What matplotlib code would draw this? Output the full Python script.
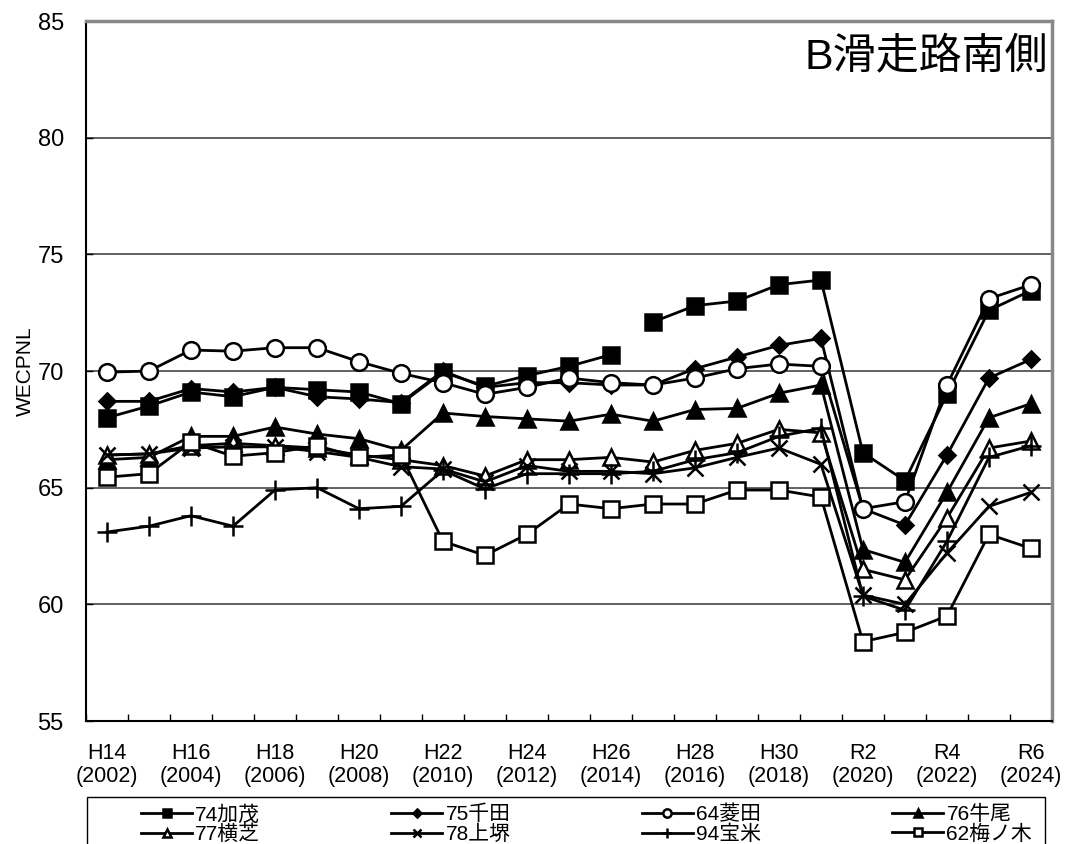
import numpy as np
import matplotlib
matplotlib.use('Agg')
import matplotlib.pyplot as plt
import matplotlib.patches as patches

plt.rcParams['font.family'] = ['Liberation Sans', 'Noto Sans CJK JP', 'DejaVu Sans']

#--------------------------------------------------------------------------#
# Data (WECPNL by year, H14 .. R6)
#--------------------------------------------------------------------------#
years = ['H14', 'H15', 'H16', 'H17', 'H18', 'H19', 'H20', 'H21', 'H22', 'H23',
         'H24', 'H25', 'H26', 'H27', 'H28', 'H29', 'H30', 'R1', 'R2', 'R3',
         'R4', 'R5', 'R6']
tick_labels = ['H14\n(2002)', 'H16\n(2004)', 'H18\n(2006)', 'H20\n(2008)',
               'H22\n(2010)', 'H24\n(2012)', 'H26\n(2014)', 'H28\n(2016)',
               'H30\n(2018)', 'R2\n(2020)', 'R4\n(2022)', 'R6\n(2024)']

kamo     = [68.0, 68.5, 69.1, 68.9, 69.3, 69.2, 69.1, 68.6, 69.95, 69.35, 69.8, 70.2,
            70.7, 72.1, 72.8, 73.0, 73.7, 73.9, 66.5, 65.3, 69.0, 72.6, 73.45]
senda    = [68.7, 68.7, 69.25, 69.1, 69.3, 68.9, 68.8, 68.65, 70.0, 69.3, 69.5, 69.5,
            69.4, 69.4, 70.1, 70.6, 71.1, 71.4, 64.1, 63.4, 66.4, 69.7, 70.5]
hishida  = [69.95, 70.0, 70.9, 70.85, 71.0, 71.0, 70.4, 69.9, 69.5, 69.0, 69.3, 69.7,
            69.5, 69.4, 69.7, 70.1, 70.3, 70.2, 64.1, 64.4, 69.4, 73.1, 73.7]
ushio    = [66.2, 66.3, 67.2, 67.2, 67.6, 67.3, 67.1, 66.6, 68.2, 68.05, 67.95, 67.85,
            68.15, 67.85, 68.35, 68.4, 69.05, 69.4, 62.35, 61.8, 64.8, 68.0, 68.6]
yokoshiba = [66.4, 66.45, 66.8, 66.9, 66.8, 66.7, 66.4, 66.2, 65.95, 65.5, 66.2, 66.2,
             66.3, 66.1, 66.6, 66.9, 67.5, 67.35, 61.5, 61.05, 63.7, 66.7, 67.0]
kamisakai = [66.4, 66.45, 66.7, 66.75, 66.75, 66.55, 66.3, 65.9, 65.8, 65.25, 65.95, 65.7,
             65.7, 65.6, 65.85, 66.3, 66.7, 66.0, 60.4, 60.0, 62.2, 64.2, 64.8]
hogome   = [63.1, 63.35, 63.8, 63.35, 64.9, 65.0, 64.1, 64.2, 65.75, 64.95, 65.6, 65.6,
            65.6, 65.7, 66.2, 66.5, 67.2, 67.55, 60.35, 59.75, 62.7, 66.3, 66.8]
umenoki  = [65.45, 65.6, 66.95, 66.35, 66.5, 66.8, 66.3, 66.4, 62.7, 62.1, 63.0, 64.3,
            64.1, 64.3, 64.3, 64.9, 64.9, 64.6, 58.4, 58.8, 59.5, 63.0, 62.4]

series = [
    ('74加茂', kamo, 's', 'black'),
    ('75千田', senda, 'D', 'black'),
    ('64菱田', hishida, 'o', 'white'),
    ('76牛尾', ushio, '^', 'black'),
    ('77横芝', yokoshiba, '^', 'white'),
    ('78上堺', kamisakai, 'x', 'black'),
    ('94宝米', hogome, '+', 'black'),
    ('62梅ノ木', umenoki, 's', 'white'),
]
msizes = {'s': 11, 'D': 8, 'o': 12, '^': 11, 'x': 11, '+': 14}

#--------------------------------------------------------------------------#
# Plot
#--------------------------------------------------------------------------#
fig = plt.figure(figsize=(10.72, 8.44), dpi=100)
fig.patch.set_facecolor('white')
ax = fig.add_axes([0.0802, 0.1457, 0.9011, 0.8294])

x = np.arange(len(years))
handles = []
for name, vals, mk, fc in series:
    vals = np.asarray(vals)
    ms = msizes[mk]
    if name == '74加茂':
        # line is broken between H26 and H27
        h, = ax.plot(x[:13], vals[:13], color='black', lw=2.0, marker=mk, ms=ms,
                     mfc=fc, mec='black', mew=1.8)
        ax.plot(x[13:], vals[13:], color='black', lw=2.0, marker=mk, ms=ms,
                mfc=fc, mec='black', mew=1.8)
    else:
        h, = ax.plot(x, vals, color='black', lw=2.0, marker=mk, ms=ms,
                     mfc=fc, mec='black', mew=1.8)
    handles.append(h)

ax.set_xlim(-0.5, len(years) - 0.5)
ax.set_ylim(55, 85)
ax.set_yticks([55, 60, 65, 70, 75, 80, 85])
for yv in [60, 65, 70, 75, 80]:
    ax.axhline(yv, color='#555555', lw=1.3, zorder=0)

ax.set_xticks(x[::2])
ax.set_xticklabels(tick_labels, fontsize=15.5, linespacing=1.1)
ax.set_xticks(np.arange(-0.5, len(years), 1.0), minor=True)
ax.tick_params(axis='x', which='major', length=0, pad=16)
ax.tick_params(axis='x', which='minor', direction='in', length=5, width=1)
ax.tick_params(axis='y', direction='in', length=5, width=1, labelsize=17, pad=16)

for side in ['left', 'bottom']:
    ax.spines[side].set_linewidth(1.5)
    ax.spines[side].set_color('black')
for side in ['top', 'right']:
    ax.spines[side].set_linewidth(2.5)
    ax.spines[side].set_color('#888888')

ax.set_ylabel('WECPNL', fontsize=15, labelpad=2)
ax.text(0.996, 0.976, 'B滑走路南側', transform=ax.transAxes, ha='right', va='top',
        fontsize=31)

# legend box drawn separately; entries laid out row by row
fig.patches.append(patches.Rectangle((87/1072, -0.05), (1045-87)/1072, 0.05 + 47/844,
                                     transform=fig.transFigure, fill=False,
                                     edgecolor='black', lw=1.0))
order = [0, 4, 1, 5, 2, 6, 3, 7]
leg = fig.legend([handles[i] for i in order], [series[i][0] for i in order], ncol=4,
                 loc='upper left', bbox_to_anchor=(141/1072, 39/844),
                 bbox_transform=fig.transFigure, fontsize=15, frameon=False,
                 handlelength=2.45, handletextpad=0.15, borderaxespad=0,
                 labelspacing=0.0, borderpad=0, columnspacing=6.3,
                 markerscale=0.5)

fig.savefig('out.png', dpi=100)
